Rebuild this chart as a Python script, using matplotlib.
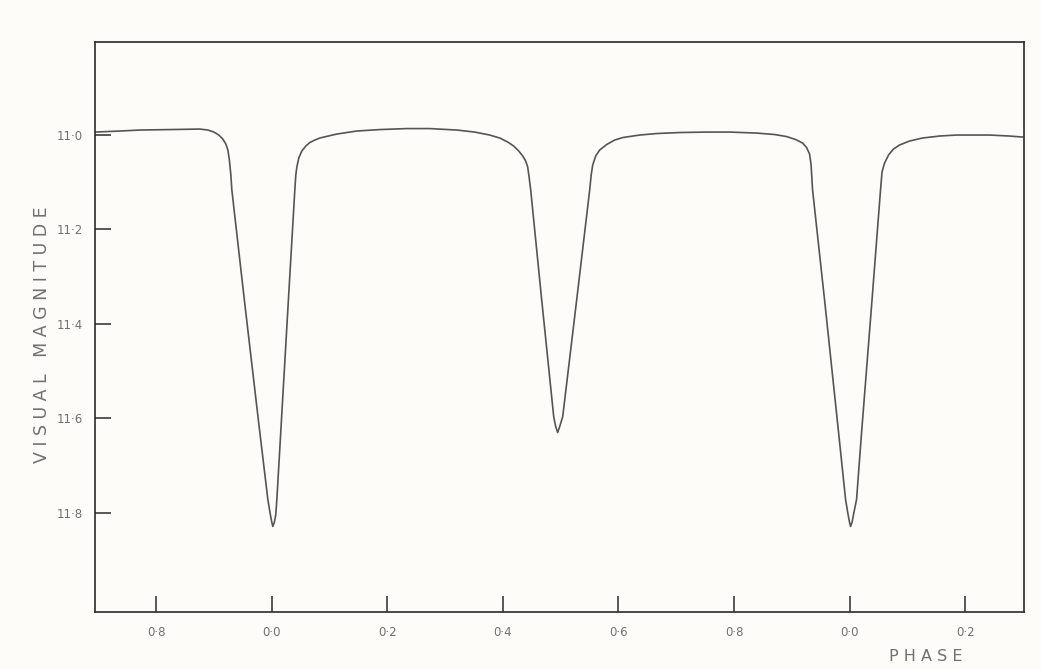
import matplotlib.pyplot as plt

# light curve (continuous phase, visual magnitude)
phase = [
    -0.3062, -0.263, -0.2284, -0.1765, -0.1246, -0.1107, -0.1003, -0.0917,
    -0.0848, -0.0796, -0.0761, -0.0735, -0.0709, -0.0692,
    -0.0476, -0.0234, -0.0069, -0.0026, 0.0, 0.0017, 0.0043, 0.0069, 0.0087,
    0.0154, 0.0287, 0.0398,
    0.0415, 0.0433, 0.0467, 0.0519, 0.0588, 0.0657, 0.0744, 0.0830,
    0.1125, 0.1471, 0.1869, 0.2336, 0.2734, 0.3201, 0.3512,
    0.3772, 0.3945, 0.4083, 0.4187, 0.4273, 0.4343, 0.4394, 0.4429, 0.4455, 0.4481,
    0.4671, 0.4879, 0.4913, 0.4948, 0.4983, 0.5035, 0.5277,
    0.5502, 0.5528, 0.5554, 0.5606, 0.5675, 0.5796, 0.5934, 0.6073, 0.6367, 0.6661,
    0.7059, 0.7526, 0.7924,
    0.8391, 0.8702, 0.8910, 0.9066, 0.9187, 0.9256, 0.9308, 0.9334, 0.9360,
    0.9567, 0.9810, 0.9931, 0.9974, 1.0, 1.0017, 1.0043, 1.0069, 1.0121,
    1.0208, 1.0389,
    1.0536, 1.0562, 1.0606, 1.0675, 1.0761, 1.0865, 1.1038, 1.1263, 1.1557,
    1.1851, 1.2422, 1.2768, 1.2993,
]
magnitude = [
    10.9937, 10.9915, 10.9894, 10.9884, 10.9873, 10.9894, 10.9937, 11.0,
    11.0085, 11.019, 11.0317, 11.0529, 11.0846, 11.1163,
    11.3488, 11.6025, 11.7717, 11.8034, 11.8203, 11.8288, 11.8203, 11.8034, 11.7717,
    11.63, 11.3488, 11.1163,
    11.0846, 11.0677, 11.0486, 11.0338, 11.0233, 11.0159, 11.0106, 11.0063,
    10.9979, 10.9915, 10.9884, 10.9863, 10.9863, 10.9894, 10.9937,
    11.0, 11.0063, 11.0148, 11.0233, 11.0338, 11.0444, 11.055, 11.0677, 11.0909, 11.1163,
    11.3488, 11.5962, 11.6173, 11.63, 11.6173, 11.5962, 11.3488,
    11.1163, 11.0846, 11.0634, 11.0444, 11.0317, 11.0201, 11.0106, 11.0053, 11.0, 10.9968,
    10.9947, 10.9937, 10.9937,
    10.9958, 10.9989, 11.0032, 11.0095, 11.0169, 11.0264, 11.0402, 11.0634, 11.1163,
    11.3488, 11.63, 11.7717, 11.8034, 11.8203, 11.8288, 11.8203, 11.8034, 11.7717,
    11.63, 11.3488,
    11.1163, 11.0782, 11.0592, 11.0423, 11.0296, 11.0211, 11.0127, 11.0063, 11.0021,
    11.0, 11.0, 11.0021, 11.0042,
]

x_ticks = [-0.2, 0.0, 0.2, 0.4, 0.6, 0.8, 1.0, 1.2]
x_tick_labels = ["0·8", "0·0", "0·2", "0·4", "0·6", "0·8", "0·0", "0·2"]
y_ticks = [11.0, 11.2, 11.4, 11.6, 11.8]
y_tick_labels = ["11·0", "11·2", "11·4", "11·6", "11·8"]

paper = "#fdfcf9"
ink = "#2b2b2b"
label_grey = "#707070"

fig = plt.figure(figsize=(10.41, 6.69), dpi=100, facecolor=paper)
ax = fig.add_axes([0.0913, 0.0852, 0.8924, 0.852])
ax.set_facecolor(paper)

ax.plot(phase, magnitude, color="#555555", lw=1.2, solid_joinstyle="round")

ax.set_xlim(-0.306, 1.302)
ax.set_ylim(12.01, 10.803)

ax.set_xticks(x_ticks)
ax.set_xticklabels(x_tick_labels)
ax.set_yticks(y_ticks)
ax.set_yticklabels(y_tick_labels)
ax.tick_params(direction="in", length=11.5, width=1.1, color=ink,
               labelsize=8.5, labelcolor=label_grey)
ax.tick_params(axis="x", pad=10)
ax.tick_params(axis="y", pad=9)

for side in ["left", "right", "top", "bottom"]:
    ax.spines[side].set_linewidth(1.2)
    ax.spines[side].set_color(ink)

fig.text(0.040, 0.500, "V I S U A L   M A G N I T U D E", rotation=90,
         ha="center", va="center", fontsize=12.5, color=label_grey)
fig.text(0.889, 0.018, "P H A S E", ha="center", va="center",
         fontsize=11.5, color=label_grey)

fig.savefig("out.png", dpi=100, facecolor=paper)
